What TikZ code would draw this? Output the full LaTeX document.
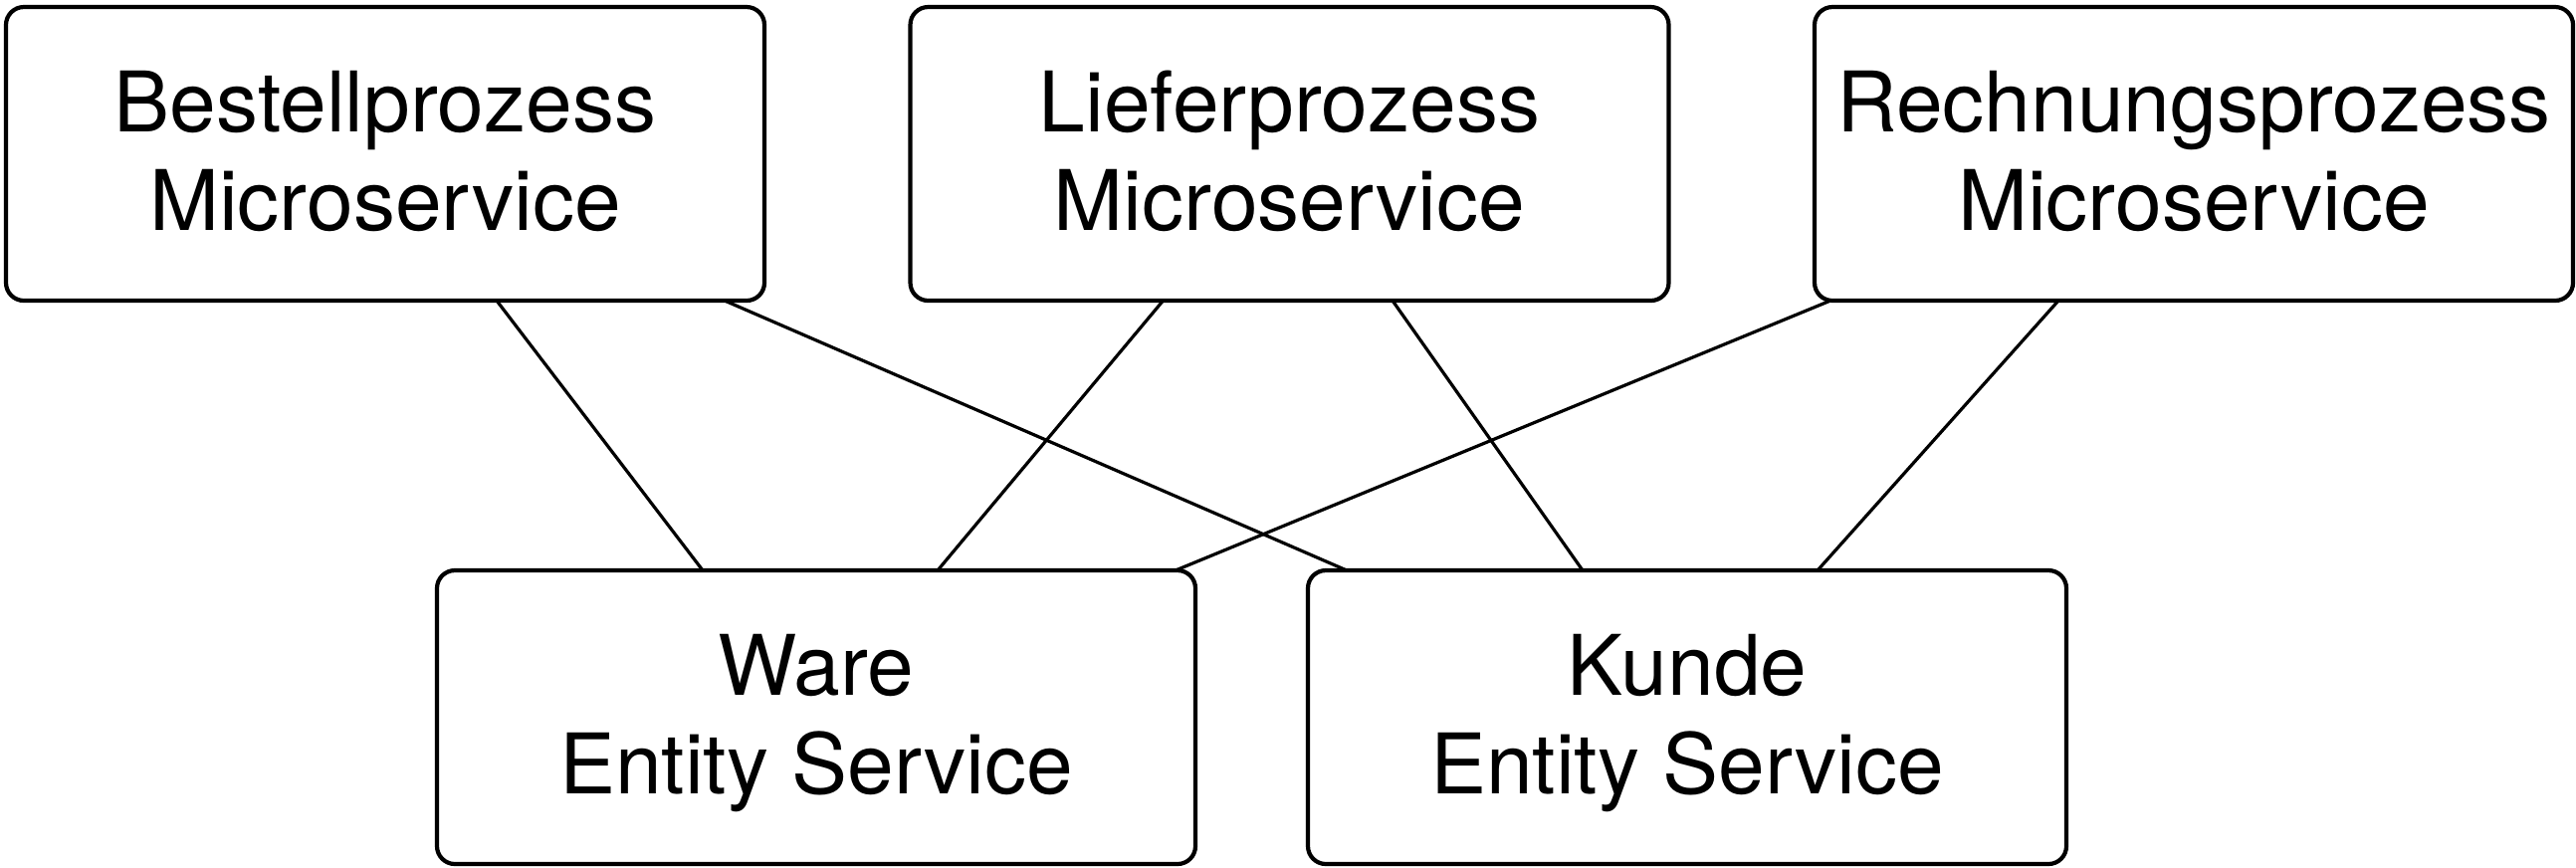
\documentclass[tikz,border=0pt]{standalone}
\usepackage{fontspec}
\setmainfont{TeX Gyre Heros}
\usetikzlibrary{calc}
\begin{document}
\begin{tikzpicture}[x=0.25pt,y=-0.25pt,
  box/.style={draw, line width=1.05pt, rounded corners=4.5pt, minimum width=190.5pt, minimum height=73.75pt, inner sep=0pt, outer sep=0pt},
  lbl/.style={font=\fontsize{21}{25}\selectfont, inner sep=0pt, anchor=base},
  link/.style={line width=0.8pt}]
\useasboundingbox (0,0) rectangle (2588,871);
% boxes
\node[box] (b) at (387,154.5) {};
\node[box] (l) at (1295.5,154.5) {};
\node[box] (r) at (2204,154.5) {};
\node[box] (w) at (820,720.5) {};
\node[box] (k) at (1695,720.5) {};
% labels
\node[lbl] (b1) at ($(b.center)+(0,-22)$) {Bestellprozess};
\node[lbl] (b2) at ($(b.center)+(0,77)$) {Microservice};
\node[lbl] (l1) at ($(l.center)+(0,-22)$) {Lieferprozess};
\node[lbl] (l2) at ($(l.center)+(0,77)$) {Microservice};
\node[lbl] (r1) at ($(r.center)+(0,-22)$) {Rechnungsprozess};
\node[lbl] (r2) at ($(r.center)+(0,77)$) {Microservice};
\node[lbl] (w1) at ($(w.center)+(0,-22)$) {Ware};
\node[lbl] (w2) at ($(w.center)+(0,77)$) {Entity Service};
\node[lbl] (k1) at ($(k.center)+(0,-22)$) {Kunde};
\node[lbl] (k2) at ($(k.center)+(0,77)$) {Entity Service};
% connectors
\draw[link] ($(b.south)+(112,0)$) -- ($(w.north)+(-114,0)$);
\draw[link] ($(b.south)+(341,0)$) -- ($(k.north)+(-342,0)$);
\draw[link] ($(l.south)+(-127,0)$) -- ($(w.north)+(122,0)$);
\draw[link] ($(l.south)+(103.5,0)$) -- ($(k.north)+(-105,0)$);
\draw[link] ($(r.south)+(-365,0)$) -- ($(w.north)+(361,0)$);
\draw[link] ($(r.south)+(-136,0)$) -- ($(k.north)+(131,0)$);
\end{tikzpicture}
\end{document}
